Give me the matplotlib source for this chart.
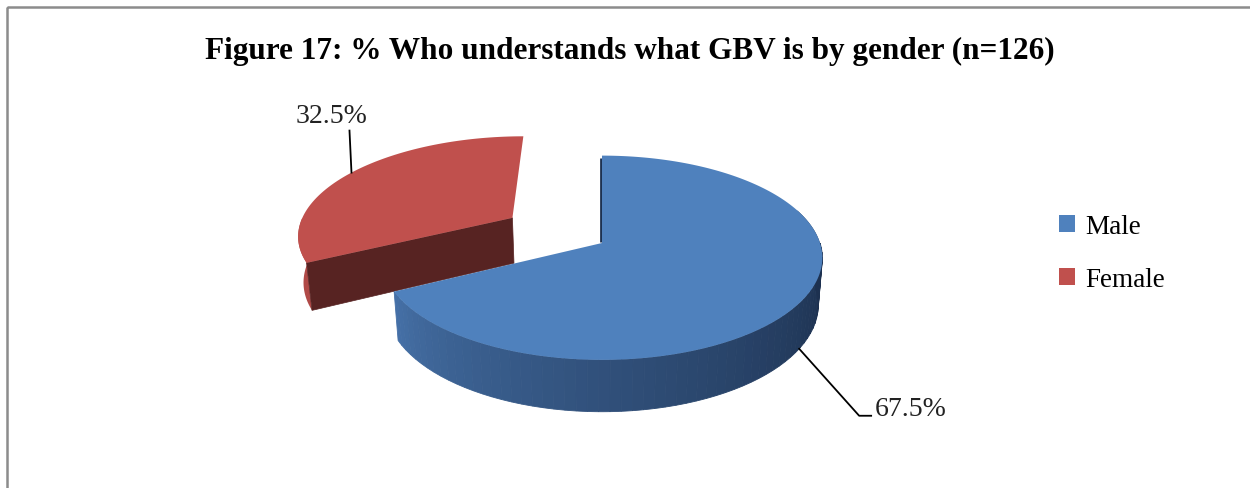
import numpy as np
import matplotlib.pyplot as plt
from matplotlib.patches import Polygon, Patch, Rectangle
from matplotlib.colors import to_rgb

# data
labels = ["Male", "Female"]
shares = [67.5, 32.5]
colors = ["#4F81BD", "#C0504D"]
title = "Figure 17: % Who understands what GBV is by gender (n=126)"

# simple perspective camera for the 3d pie (pixel space)
CX, CY = 602, 244
TILT = np.radians(27.3)
DIST = 6.16
FOC = 1343
DEPTH = 0.245
EXPLODE = [0.0, 0.5]


def project(X, Y, Z):
    s, c = np.sin(TILT), np.cos(TILT)
    yc = Y * s + Z * c
    d = DIST + Y * c - Z * s
    return CX + FOC * X / d, CY - FOC * yc / d


def arc(a0, a1, ox, oy, z, n=80):
    t = np.radians(np.linspace(a0, a1, n))
    return project(np.cos(t) + ox, np.sin(t) + oy, z)


def mix(c1, c2, f):
    c1, c2 = np.array(to_rgb(c1)), np.array(to_rgb(c2))
    return tuple(c1 + (c2 - c1) * f)


fig = plt.figure(figsize=(12.5, 4.89), dpi=100)
ax = fig.add_axes([0, 0, 1, 1])
ax.set_xlim(0, 1250)
ax.set_ylim(489, 0)
ax.axis("off")

# slice angles: start at 12 o'clock, clockwise (math degrees, lo < hi)
angles = []
start = 90.0
for v in shares:
    sweep = v / sum(shares) * 360
    angles.append((start - sweep, start))
    start -= sweep

# Female (drawn first, sits behind)
a_lo, a_hi = angles[1][0] + 360, angles[1][1] + 360
mid = np.radians((a_lo + a_hi) / 2)
ox, oy = EXPLODE[1] * np.cos(mid), EXPLODE[1] * np.sin(mid)
# outer side sliver (front half only)
if a_hi > 180:
    sx1, sy1 = arc(180, a_hi, ox, oy, 0, 30)
    sx2, sy2 = arc(a_hi, 180, ox, oy, -DEPTH, 30)
    ax.add_patch(Polygon(np.c_[np.r_[sx1, sx2], np.r_[sy1, sy2]],
                         fc="#B04A47", ec="none", zorder=1))
# radial face on the cut facing the viewer
ex, ey = np.cos(np.radians(a_hi)) + ox, np.sin(np.radians(a_hi)) + oy
px, py = project(np.array([ox, ex, ex, ox]), np.array([oy, ey, ey, oy]),
                 np.array([0, 0, -DEPTH, -DEPTH]))
ax.add_patch(Polygon(np.c_[px, py], fc="#572322", ec="#572322", lw=0.5,
                     zorder=2))
# top face
tx, ty = arc(a_lo, a_hi, ox, oy, 0)
cx0, cy0 = project(ox, oy, 0)
ax.add_patch(Polygon(np.c_[np.r_[cx0, tx], np.r_[cy0, ty]], fc=colors[1],
                     ec="none", zorder=3))
fem_anchor = project(np.cos(mid) + ox, np.sin(mid) + oy, 0)

# Male
b_lo, b_hi = angles[0][0] + 360, angles[0][1] + 360
# outer side with gradient, visible from the cut to 360 deg
edges = np.linspace(b_lo, 360, 60)
for i in range(len(edges) - 1):
    f = (i + 0.5) / (len(edges) - 1)
    col = mix("#4672A9", "#1D3150", min(1, f ** 0.8 * 1.05))
    ux, uy = arc(edges[i], edges[i + 1], 0, 0, 0, 6)
    lx, ly = arc(edges[i + 1], edges[i], 0, 0, -DEPTH, 6)
    ax.add_patch(Polygon(np.c_[np.r_[ux, lx], np.r_[uy, ly]], fc=col,
                         ec=col, lw=0.6, zorder=4))
ux, uy = arc(360, 380, 0, 0, 0, 20)
lx, ly = arc(380, 360, 0, 0, -DEPTH, 20)
ax.add_patch(Polygon(np.c_[np.r_[ux, lx], np.r_[uy, ly]], fc="#1D3150",
                     ec="none", zorder=4))
# top face
tx, ty = arc(b_lo, b_hi, 0, 0, 0, 200)
ax.add_patch(Polygon(np.c_[np.r_[CX, tx], np.r_[CY, ty]], fc=colors[0],
                     ec="none", zorder=5))
# thin dark edge along the 12 o'clock cut
topx, topy = project(0, 1, 0)
ax.plot([topx - 1.5, CX - 1.5], [topy + 2, CY - 1], color="#1D3150", lw=2,
        zorder=4.5, solid_capstyle="butt")
mmid = np.radians((b_lo + b_hi) / 2)
male_anchor = project(np.cos(mmid), np.sin(mmid), -DEPTH)

# data labels with leader lines
fx, fy = fem_anchor
ax.plot([fx, fx - 2], [fy, fy - 42], color="black", lw=1.3, zorder=6)
ax.text(fx - 20, fy - 45, f"{shares[1]:.1f}%", ha="center", va="bottom",
        family="Liberation Serif", fontsize=20, color="#222222")
mx, my = male_anchor
ax.plot([mx, mx + 60, mx + 72], [my, my + 67, my + 67], color="black",
        lw=1.3, zorder=6)
ax.text(mx + 76, my + 60, f"{shares[0]:.1f}%", ha="left", va="center",
        family="Liberation Serif", fontsize=20, color="#222222")

# title
ax.text(630, 51, title, ha="center", va="center", family="Liberation Serif",
        fontweight="bold", fontsize=22.5, color="black")

# chart border
ax.add_patch(Rectangle((7, 8), 1300, 600, fill=False, ec="#8C8C8C", lw=1.8,
                       zorder=0))

handles = [Patch(fc=c, ec="none") for c in colors]
leg = ax.legend(handles, labels, loc="upper left",
                bbox_to_anchor=(1035 / 1250, 1 - 191 / 489), frameon=False,
                handlelength=0.58, handleheight=0.58, handletextpad=0.38,
                labelspacing=1.02,
                prop={"family": "Liberation Serif", "size": 19.5})

fig.savefig("out.png", dpi=100)
